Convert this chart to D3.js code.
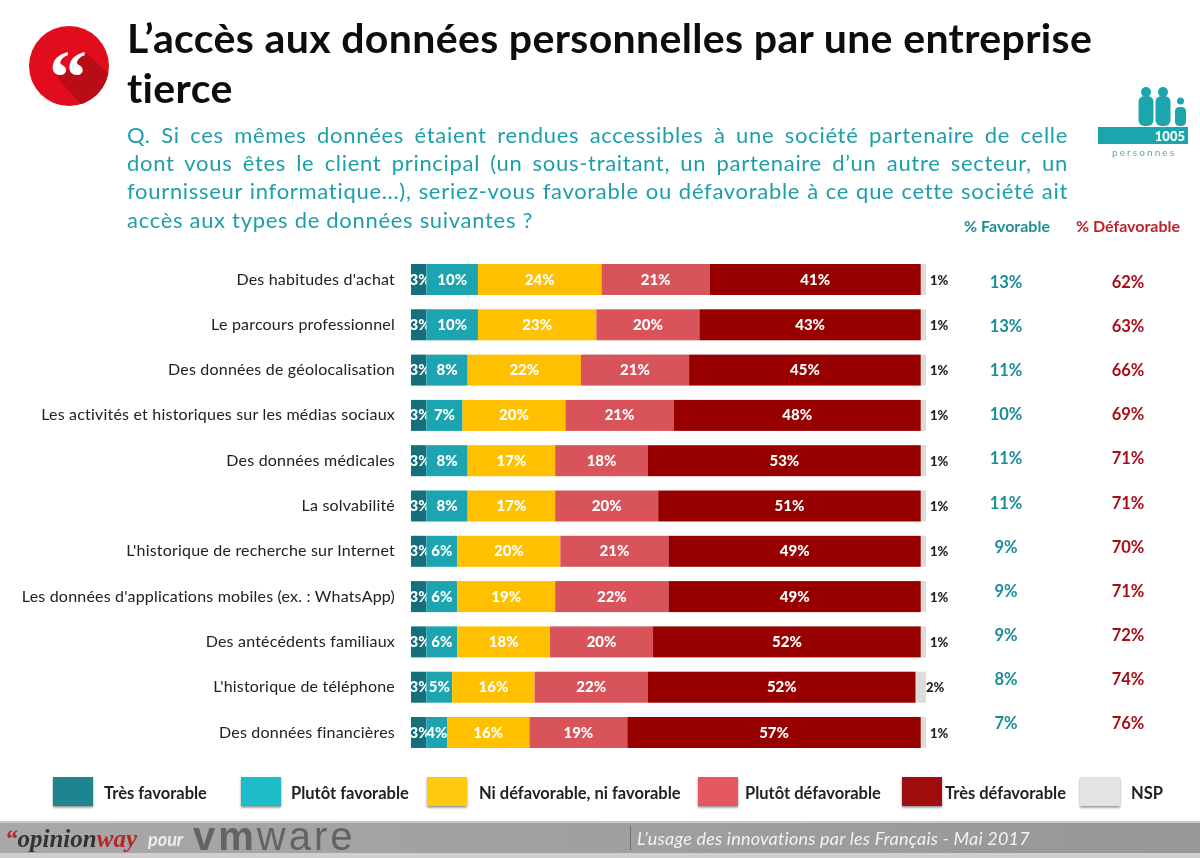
<!DOCTYPE html>
<html><head><meta charset="utf-8">
<script src="https://cdn.jsdelivr.net/npm/d3@7/dist/d3.min.js"></script>
<style>
html,body{margin:0;padding:0;background:#fff}
svg{display:block;font-family:Lato,"Open Sans",sans-serif}
</style></head><body>
<svg id="c" width="1200" height="858"></svg>
<script>
const categories=["Des habitudes d'achat","Le parcours professionnel","Des données de géolocalisation","Les activités et historiques sur les médias sociaux","Des données médicales","La solvabilité","L'historique de recherche sur Internet","Les données d'applications mobiles (ex. : WhatsApp)","Des antécédents familiaux","L'historique de téléphone","Des données financières"];
const seriesNames=["Très favorable","Plutôt favorable","Ni défavorable, ni favorable","Plutôt défavorable","Très défavorable","NSP"];
const tresFavorable=[3,3,3,3,3,3,3,3,3,3,3];
const plutotFavorable=[10,10,8,7,8,8,6,6,6,5,4];
const neutre=[24,23,22,20,17,17,20,19,18,16,16];
const plutotDefavorable=[21,20,21,21,18,20,21,22,20,22,19];
const tresDefavorable=[41,43,45,48,53,51,49,49,52,52,57];
const nsp=[1,1,1,1,1,1,1,1,1,2,1];
const totalFavorable=[13,13,11,10,11,11,9,9,9,8,7];
const totalDefavorable=[62,63,66,69,71,71,70,71,72,74,76];
const barColors=["#146f7b","#1aa4b0","#ffc000","#d8525a","#980000","#dcdcdc"];
const legendColors=["#1a858f","#1cbcc8","#ffc907","#e6595d","#a00808","#e3e3e3"];
const titleLines=["L’accès aux données personnelles par une entreprise","tierce"];
const questionLines=["Q. Si ces mêmes données étaient rendues accessibles à une société partenaire de celle","dont vous êtes le client principal (un sous-traitant, un partenaire d’un autre secteur, un","fournisseur informatique...), seriez-vous favorable ou défavorable à ce que cette société ait","accès aux types de données suivantes ?"];

const svg=d3.select("#c");
const defs=svg.append("defs");
const sh=defs.append("filter").attr("id","sh").attr("x","-20%").attr("y","-20%").attr("width","140%").attr("height","150%");
sh.append("feDropShadow").attr("dx",0).attr("dy",1.5).attr("stdDeviation",1.2).attr("flood-color","#000").attr("flood-opacity",.45);
const soft=defs.append("filter").attr("id","soft");
soft.append("feGaussianBlur").attr("stdDeviation",.5);
defs.append("clipPath").attr("id","disc").append("circle").attr("cx",69).attr("cy",66).attr("r",40);
const fg=defs.append("linearGradient").attr("id","band");
fg.append("stop").attr("offset",0).attr("stop-color","#a8a8a8");
fg.append("stop").attr("offset",1).attr("stop-color","#979797");
const root=svg.append("g").attr("filter","url(#soft)");

// header icon
const ic=root.append("g");
ic.append("circle").attr("cx",69).attr("cy",66).attr("r",40).attr("fill","#e2101a");
ic.append("path").attr("clip-path","url(#disc)").attr("d","M57 78L87 53L135 100L105 130Z").attr("fill","#b80e14");
ic.append("text").attr("x",68).attr("y",103).attr("text-anchor","middle").attr("font-family","'Liberation Serif',serif").attr("font-weight",700).attr("font-size",76).attr("fill","#fff").text("“");

// title
root.append("g").selectAll("text").data(titleLines).join("text")
 .attr("x",127).attr("y",(d,i)=>53+i*50).attr("font-size",41).attr("letter-spacing",.35).attr("font-weight",700).attr("fill","#0b0b0b").text(d=>d);

// question, justified
const q=root.append("g").selectAll("text").data(questionLines).join("text")
 .attr("x",127).attr("y",(d,i)=>143+i*28.2).attr("font-size",22).attr("letter-spacing",.7).attr("fill","#1f9fa8").text(d=>d);
q.each(function(d,i){
  if(i===questionLines.length-1)return;
  const gaps=d.split(" ").length-1, w=this.getComputedTextLength();
  d3.select(this).attr("word-spacing",(941-w)/gaps);
});

// sample icon
const pe=root.append("g").attr("fill","#1fa5ad");
pe.append("rect").attr("x",1098).attr("y",127).attr("width",90).attr("height",17);
[[1146,92,5,15,30],[1163,92,5,15,30],[1180.5,101,3.5,11,19]].forEach(p=>{
  pe.append("circle").attr("cx",p[0]).attr("cy",p[1]).attr("r",p[2]);
  pe.append("rect").attr("x",p[0]-p[3]/2).attr("y",126-p[4]).attr("width",p[3]).attr("height",p[4]).attr("rx",p[3]/2.6);
});
root.append("text").attr("x",1185).attr("y",141).attr("text-anchor","end").attr("font-size",13).attr("font-weight",900).attr("fill","#fff").text("1005");
root.append("text").attr("x",1112).attr("y",156).attr("font-size",10).attr("letter-spacing",2.1).attr("fill","#5fa9b0").text("personnes");

// bars
const x=d3.scaleLinear().domain([0,100]).range([411,926]);
const y=d3.scalePoint().domain(categories).range([279.5,732.5]);
const yCol=d3.scalePoint().domain(categories).range([283,724]);
const barH=31;
const rows=categories.map((c,i)=>({c,i,v:[tresFavorable[i],plutotFavorable[i],neutre[i],plutotDefavorable[i],tresDefavorable[i],nsp[i]]}));
const stack=d3.stack().keys(d3.range(6)).value((r,k)=>r.v[k])(rows);
const gs=root.append("g").selectAll("g").data(stack).join("g").attr("fill",(d,i)=>barColors[i]);
gs.selectAll("rect").data(d=>d).join("rect")
 .attr("x",d=>x(d[0])).attr("width",d=>x(d[1])-x(d[0]))
 .attr("y",d=>y(d.data.c)-barH/2).attr("height",barH);
gs.each(function(s,k){
  d3.select(this).selectAll("text").data(s).join("text")
   .attr("x",d=>k===5?(d.data.v[5]>1?x(100):x(100)+4):(k===0?x(d[0])+9:x((d[0]+d[1])/2)))
   .attr("y",d=>y(d.data.c)+5)
   .attr("text-anchor",k===5?"start":"middle")
   .attr("font-size",k===5?13:15).attr("font-weight",900)
   .attr("fill",k===5?"#222":"#fff")
   .text(d=>d.data.v[k]+"%");
});

// category labels
root.append("g").selectAll("text").data(categories).join("text")
 .attr("x",395).attr("y",d=>y(d)+5).attr("text-anchor","end").attr("font-size",16).attr("letter-spacing",.2).attr("fill","#222").text(d=>d);

// totals
root.append("text").attr("x",1007).attr("y",232).attr("text-anchor","middle").attr("font-size",16).attr("font-weight",700).attr("fill","#1f8f98").text("% Favorable");
root.append("text").attr("x",1128).attr("y",232).attr("text-anchor","middle").attr("font-size",16).attr("font-weight",700).attr("fill","#c0202a").text("% Défavorable");
root.append("g").selectAll("text").data(categories).join("text")
 .attr("x",1006).attr("y",d=>yCol(d)+5).attr("text-anchor","middle").attr("font-size",16.5).attr("font-weight",700).attr("fill","#1a8d96").text((d,i)=>totalFavorable[i]+"%");
root.append("g").selectAll("text").data(categories).join("text")
 .attr("x",1128).attr("y",d=>yCol(d)+5).attr("text-anchor","middle").attr("font-size",16.5).attr("font-weight",700).attr("fill","#a81018").text((d,i)=>totalDefavorable[i]+"%");

// legend
const legendX=[53,241,427,698,902,1080], legendText=[104,291,479,745,945,1131];
const lg=root.append("g").selectAll("g").data(seriesNames).join("g");
lg.append("rect").attr("x",(d,i)=>legendX[i]).attr("y",777).attr("width",40).attr("height",29).attr("fill",(d,i)=>legendColors[i]).attr("filter","url(#sh)");
lg.append("text").attr("x",(d,i)=>legendText[i]).attr("y",799).attr("font-size",16.5).attr("font-weight",700).attr("fill","#222").text(d=>d);

// footer
const f=root.append("g");
f.append("rect").attr("x",0).attr("y",821).attr("width",1200).attr("height",2).attr("fill","#c8c8c8");
f.append("rect").attr("x",0).attr("y",823).attr("width",1200).attr("height",30).attr("fill","url(#band)");
f.append("rect").attr("x",0).attr("y",853).attr("width",1200).attr("height",5).attr("fill","#cfcfcf");
f.append("rect").attr("x",630).attr("y",826).attr("width",1).attr("height",24).attr("fill","#6f6f6f");
const op=f.append("text").attr("x",5).attr("y",847).attr("font-family","'Liberation Serif',serif").attr("font-style","italic").attr("font-weight",700).attr("font-size",25);
op.append("tspan").attr("fill","#b8252c").text("“");
op.append("tspan").attr("fill","#333").text("opinion");
op.append("tspan").attr("fill","#b8252c").text("way");
f.append("text").attr("x",148).attr("y",846).attr("font-style","italic").attr("font-weight",700).attr("font-size",18).attr("fill","#eee").text("pour");
const vm=f.append("text").attr("x",193).attr("y",850).attr("font-family","'Liberation Sans',sans-serif").attr("font-size",40).attr("letter-spacing",3).attr("fill","#636363");
vm.append("tspan").attr("font-weight",700).text("vm");
vm.append("tspan").text("ware");
f.append("text").attr("x",637).attr("y",845).attr("font-style","italic").attr("font-size",18).attr("letter-spacing",.22).attr("fill","#f2f2f2").text("L’usage des innovations par les Français - Mai 2017");
</script></body></html>
